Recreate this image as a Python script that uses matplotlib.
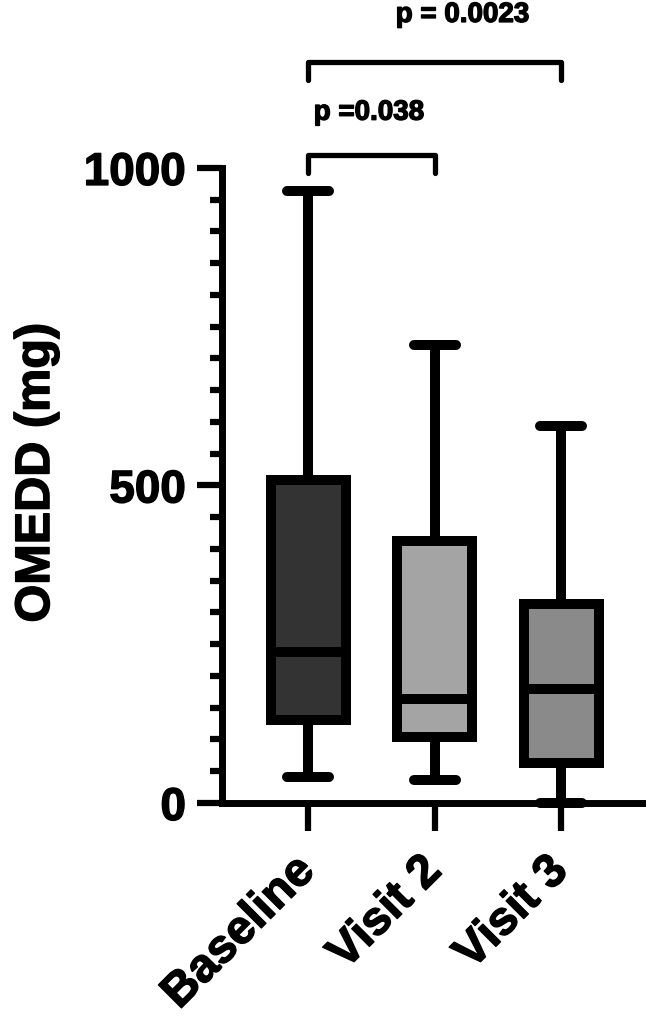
import matplotlib
matplotlib.use('Agg')
import matplotlib.pyplot as plt
import matplotlib.patheffects as pe
from matplotlib.ticker import MultipleLocator

plt.rcParams['font.family'] = ['Liberation Sans', 'DejaVu Sans']
plt.rcParams['font.weight'] = 'bold'

# box summary
groups = ['Baseline', 'Visit 2', 'Visit 3']
whislo = [41, 36, 0]
q1 = [130, 104, 63]
med = [237, 163, 179]
q3 = [508, 413, 313]
whishi = [963, 721, 593]
fills = ['#333333', '#a4a4a4', '#8a8a8a']

# significance brackets: (left group, right group, height, label)
brackets = [(0, 1, 1020, 'p =0.038'), (0, 2, 1167, 'p = 0.0023')]

fig = plt.figure(figsize=(6.46, 10.16), dpi=100)
ax = fig.add_axes([0.344, 0.2097, 0.656, 0.625])

stats = []
for i in range(len(groups)):
    stats.append(dict(label=groups[i], whislo=whislo[i], q1=q1[i], med=med[i],
                      q3=q3[i], whishi=whishi[i], fliers=[]))

lw = 7.2
bp = ax.bxp(stats, positions=[0, 1, 2], widths=0.59, patch_artist=True,
            showfliers=False, capwidths=0.33,
            boxprops=dict(edgecolor='black', linewidth=lw, joinstyle='miter'),
            medianprops=dict(color='black', linewidth=lw, solid_capstyle='butt'),
            whiskerprops=dict(color='black', linewidth=lw, solid_capstyle='butt'),
            capprops=dict(color='black', linewidth=lw, solid_capstyle='round'))
for patch, c in zip(bp['boxes'], fills):
    patch.set_facecolor(c)
for ln in bp['whiskers'] + bp['caps'] + bp['medians']:
    ln.set_clip_on(False)
for p in bp['boxes']:
    p.set_clip_on(False)

ax.set_xlim(-0.68, 2.67)
ax.set_ylim(0, 1000)

ax.spines['top'].set_visible(False)
ax.spines['right'].set_visible(False)
ax.spines['left'].set_linewidth(5)
ax.spines['bottom'].set_linewidth(5)

ax.yaxis.set_major_locator(MultipleLocator(500))
ax.yaxis.set_minor_locator(MultipleLocator(50))
ax.tick_params(axis='y', which='major', length=18, width=4.5, pad=8, labelsize=33)
ax.tick_params(axis='y', which='minor', length=9, width=4.5)
ax.tick_params(axis='x', which='major', length=20, width=4.5, pad=24, labelsize=34)
ax.set_xticks([0, 1, 2])
ax.set_xticklabels(groups, rotation=45, ha='right', va='center', rotation_mode='anchor')

ax.set_ylabel('OMEDD (mg)', fontsize=35, fontweight='bold')
ax.yaxis.set_label_coords(-0.385, 0.52)

for a, b, h, txt in brackets:
    ax.plot([a, a, b, b], [h - 28, h, h, h - 28], color='black', lw=3.8,
            clip_on=False, solid_capstyle='round', solid_joinstyle='round')

ax.text(0.48, 1087, brackets[0][3], ha='center', va='center', fontsize=20,
        fontweight='bold')
ax.text(1.22, 1241, brackets[1][3], ha='center', va='center', fontsize=20,
        fontweight='bold')

# heavier strokes, like the original export
thick = [pe.withStroke(linewidth=1.0, foreground='black')]
for t in ax.get_xticklabels() + ax.get_yticklabels() + ax.texts + [ax.yaxis.label]:
    t.set_fontweight('bold')
    t.set_path_effects(thick)

fig.savefig('out.png', dpi=100)
